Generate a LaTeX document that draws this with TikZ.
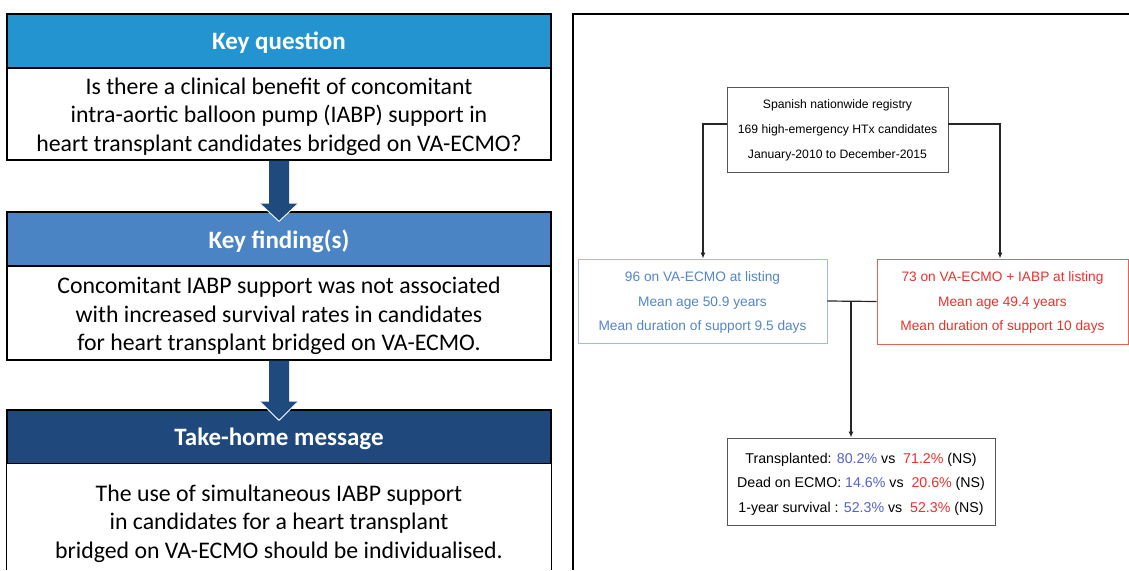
\documentclass[tikz,border=0pt]{standalone}
\usepackage{fontspec}
\setmainfont{Carlito}
\newfontfamily\arialf{Liberation Sans}
\usetikzlibrary{calc,arrows.meta,shadows}
\definecolor{qblue}{RGB}{36,148,208}
\definecolor{fblue}{RGB}{74,132,196}
\definecolor{tblue}{RGB}{31,72,124}
\definecolor{arrblue}{RGB}{31,74,126}
\definecolor{lblue}{RGB}{84,134,200}
\definecolor{lbord}{RGB}{160,190,225}
\definecolor{rred}{RGB}{232,50,46}
\definecolor{rbord}{RGB}{235,95,85}
\definecolor{sblue}{RGB}{84,100,200}
\definecolor{gbord}{RGB}{85,85,85}
\begin{document}
\begin{tikzpicture}[x=1pt,y=-1pt,
  headbox/.style={draw=black,line width=1.3pt,fill=#1,minimum width=544pt,minimum height=54pt,inner sep=0pt},
  headtext/.style={inner sep=0pt,text=white,font=\fontsize{25}{28}\selectfont\bfseries},
  bodybox/.style={draw=black,line width=1.3pt,fill=white,minimum width=544pt,inner sep=0pt},
  bodytext/.style={inner sep=0pt,align=center,font=\fontsize{23.8}{28.5}\selectfont},
  bigarrow/.style={fill=arrblue},
  tipline/.style={draw=white,line width=0.9pt},
  flowbox/.style={draw=#1,line width=0.9pt,fill=white,inner sep=0pt,drop shadow={opacity=0.25,shadow xshift=0.8pt,shadow yshift=-1.2pt}},
  flowtext/.style={inner sep=0pt,align=center,font=\arialf\fontsize{12.2}{25}\selectfont},
  conn/.style={draw=black!85,line width=1.2pt},
  connarrow/.style={conn,-{Latex[length=6pt,width=5pt]}}
]
\useasboundingbox (0,0) rectangle (1129,570);
\fill[white] (0,0) rectangle (1129,570);

% ---------- left panel ----------
\node[headbox=qblue] (h1) at (279,41) {};
\node[headtext] (h1t) at ($(h1)+(0,2)$) {Key question};
\node[bodybox,minimum height=92pt] (b1) at (279,114) {};
\node[bodytext] (b1t) at ($(b1)+(0,2.5)$) {Is there a clinical benefit of concomitant\\intra-aortic balloon pump (IABP) support in\\heart transplant candidates bridged on VA-ECMO?};
\node[headbox=fblue] (h2) at (279,239) {};
\node[headtext] (h2t) at ($(h2)+(0,2)$) {Key finding(s)};
\node[bodybox,minimum height=94pt] (b2) at (279,313) {};
\node[bodytext] (b2t) at ($(b2)+(0,3)$) {Concomitant IABP support was not associated\\with increased survival rates in candidates\\for heart transplant bridged on VA-ECMO.};
\node[headbox=tblue] (h3) at (279,437) {};
\node[headtext] (h3t) at ($(h3)+(0,2)$) {Take-home message};
\node[draw=none,fill=white,minimum width=544pt,minimum height=106pt,inner sep=0pt] (b3) at (279,517) {};
\draw[line width=1.3pt] (b3.south west) -- (b3.north west) -- (b3.north east) -- (b3.south east);
\node[bodytext] (b3t) at (279,523.5) {The use of simultaneous IABP support\\in candidates for a heart transplant\\bridged on VA-ECMO should be individualised.};

% big arrows
\fill[bigarrow] ($(b1.south)+(-10,0)$) -- ($(b1.south)+(10,0)$) -- ($(b1.south)+(10,43)$) -- ($(b1.south)+(19,43)$) -- ($(h2.north)+(0,10)$) -- ($(b1.south)+(-19,43)$) -- ($(b1.south)+(-10,43)$) -- cycle;
\draw[tipline] ($(b1.south)+(19,43)$) -- ($(h2.north)+(0,10)$) -- ($(b1.south)+(-19,43)$);
\fill[bigarrow] ($(b2.south)+(-10,0)$) -- ($(b2.south)+(10,0)$) -- ($(b2.south)+(10,41)$) -- ($(b2.south)+(19,41)$) -- ($(h3.north)+(0,11)$) -- ($(b2.south)+(-19,41)$) -- ($(b2.south)+(-10,41)$) -- cycle;
\draw[tipline] ($(b2.south)+(19,41)$) -- ($(h3.north)+(0,11)$) -- ($(b2.south)+(-19,41)$);

% ---------- right panel ----------
\coordinate (fr1) at (1129,14);
\coordinate (fr2) at (573,14);
\coordinate (fr3) at (573,570);
\draw[line width=1.5pt] (fr1) -- (fr2) -- (fr3);

\node[flowbox=gbord,minimum width=221pt,minimum height=85pt] (top) at (837.5,129.5) {};
\node[flowtext] (topt) at ($(top)+(0,0.5)$) {Spanish nationwide registry\\169 high-emergency HTx candidates\\January-2010 to December-2015};
\node[flowbox=lbord,minimum width=249pt,minimum height=84pt] (lbox) at (702.5,301) {};
\node[flowtext,text=lblue,font=\arialf\fontsize{13.7}{24.5}\selectfont] (lboxt) at ($(lbox)+(0,1.5)$) {96 on VA-ECMO at listing\\Mean age 50.9 years\\Mean duration of support 9.5 days};
\node[flowbox=rbord,minimum width=251pt,minimum height=85pt] (rbox) at (1002.5,301.5) {};
\node[flowtext,text=rred,font=\arialf\fontsize{13.7}{24.5}\selectfont] (rboxt) at ($(rbox)+(0,1)$) {73 on VA-ECMO + IABP at listing\\Mean age 49.4 years\\Mean duration of support 10 days};
\node[flowbox=gbord,minimum width=268pt,minimum height=87pt] (res) at (861,481.5) {};
\node[flowtext,font=\arialf\fontsize{14.2}{24.5}\selectfont] (rest) at ($(res)+(0,2.5)$) {Transplanted: \textcolor{sblue}{80.2\%} vs\ \ \textcolor{rred}{71.2\%} (NS)\\Dead on ECMO: \textcolor{sblue}{14.6\%} vs\ \ \textcolor{rred}{20.6\%} (NS)\\1-year survival : \textcolor{sblue}{52.3\%} vs\ \ \textcolor{rred}{52.3\%} (NS)};

\draw[connarrow] (top.west |- 0,124) -| (703,0 |- lbox.north);
\draw[connarrow] (top.east |- 0,124) -| (1000,0 |- rbox.north);
\draw[conn] (lbox.east) -- (rbox.west);
\coordinate (mid) at (851,301);
\draw[connarrow] (mid) -- (mid |- res.north);
\end{tikzpicture}
\end{document}
